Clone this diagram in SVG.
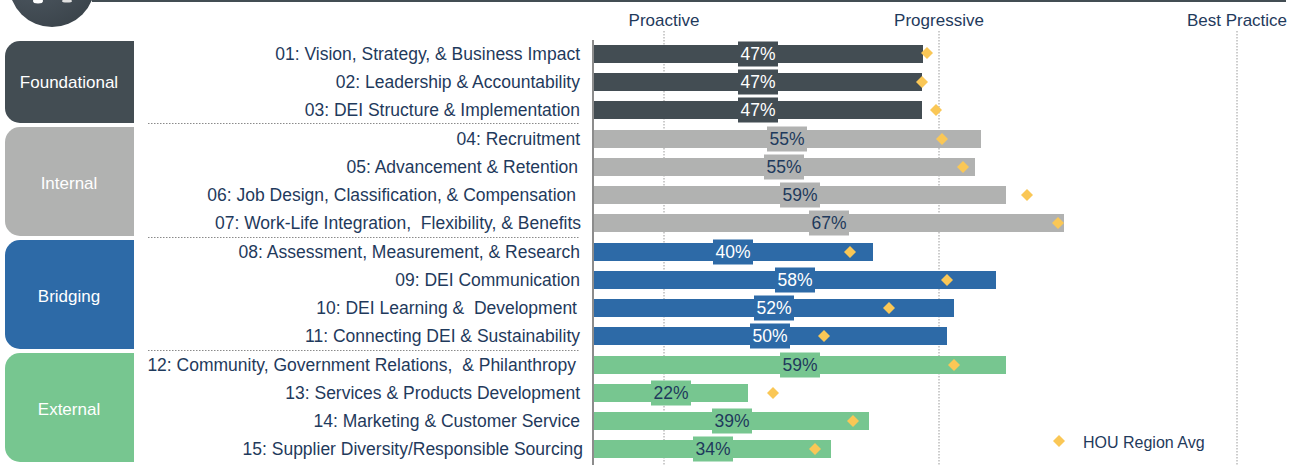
<svg xmlns="http://www.w3.org/2000/svg" width="1304" height="465" viewBox="0 0 1304 465">
<defs>
<style>
text{font-family:"Liberation Sans",Arial,sans-serif;font-size:16px;white-space:pre}
.lbl{fill:#1F3A5C;text-anchor:end;font-size:17.5px}
.hdr{fill:#1F3A5C;text-anchor:middle;font-size:17px}
.cat{fill:#FFFFFF;text-anchor:middle;font-size:17px}
.pw{fill:#FFFFFF;text-anchor:middle;font-size:17.5px}
.pn{fill:#1F3A5C;text-anchor:middle;font-size:17.5px}
.grid{stroke:#9A9A9A;stroke-width:1;stroke-dasharray:1.5 1.5;fill:none}
.div{stroke:#8A8A8A;stroke-width:1;stroke-dasharray:1.5 1.5;fill:none}
.dk{fill:#434D53}.gy{fill:#B1B2B1}.bl{fill:#2D6AA7}.gr{fill:#77C690}
.dia{fill:#FAC756}
</style>
<radialGradient id="cg" cx="0.3" cy="0.2" r="0.9">
<stop offset="0" stop-color="#55606A"/>
<stop offset="1" stop-color="#3A434A"/>
</radialGradient>
<polygon id="d" points="0,-6 6,0 0,6 -6,0"/>
</defs>

<g id="header">
<circle cx="52" cy="-16" r="43" fill="url(#cg)"/>
<ellipse cx="38" cy="1" rx="5" ry="2.5" fill="#FFFFFF"/>
<ellipse cx="67" cy="1" rx="5" ry="1.5" fill="#E0E0E0"/>
<rect x="92" y="0" width="1194" height="2" fill="#434D53"/>
<text class="hdr" x="664" y="26">Proactive</text>
<text class="hdr" x="939" y="26">Progressive</text>
<text class="hdr" x="1237" y="26">Best Practice</text>
</g>

<g id="grid">
<line class="grid" x1="664" y1="31" x2="664" y2="465"/>
<line class="grid" x1="939" y1="31" x2="939" y2="465"/>
<line class="grid" x1="1237" y1="31" x2="1237" y2="465"/>
<line x1="593" y1="40" x2="593" y2="465" stroke="#8C8C8C" stroke-width="2"/>
<line class="div" x1="148" y1="123.5" x2="580" y2="123.5"/>
<line class="div" x1="148" y1="237.5" x2="580" y2="237.5"/>
<line class="div" x1="148" y1="350.5" x2="580" y2="350.5"/>
</g>

<g id="cat-foundational">
<path class="dk" d="M20,41 H134 V123 H20 A15,15 0 0 1 5,108 V56 A15,15 0 0 1 20,41 Z"/>
<text class="cat" x="69" y="88">Foundational</text>
</g>
<g id="cat-internal">
<path class="gy" d="M20,127 H134 V236 H20 A15,15 0 0 1 5,221 V142 A15,15 0 0 1 20,127 Z"/>
<text class="cat" x="69" y="189">Internal</text>
</g>
<g id="cat-bridging">
<path class="bl" d="M20,240 H134 V349 H20 A15,15 0 0 1 5,334 V255 A15,15 0 0 1 20,240 Z"/>
<text class="cat" x="69" y="302">Bridging</text>
</g>
<g id="cat-external">
<path class="gr" d="M20,353 H134 V462 H20 A15,15 0 0 1 5,447 V368 A15,15 0 0 1 20,353 Z"/>
<text class="cat" x="69" y="415">External</text>
</g>

<g id="row01"><text class="lbl" x="580" y="60">01: Vision, Strategy, &amp; Business Impact</text>
<rect class="dk" x="594" y="45" width="329" height="18"/><rect class="dk" x="738" y="41.5" width="40" height="25"/><text class="pw" x="758" y="60">47%</text><use href="#d" class="dia" x="927" y="53"/></g>
<g id="row02"><text class="lbl" x="580" y="88">02: Leadership &amp; Accountability</text>
<rect class="dk" x="594" y="73" width="328" height="18"/><rect class="dk" x="738" y="69.5" width="40" height="25"/><text class="pw" x="758" y="88">47%</text><use href="#d" class="dia" x="922" y="82"/></g>
<g id="row03"><text class="lbl" x="580" y="116">03: DEI Structure &amp; Implementation</text>
<rect class="dk" x="594" y="101" width="328" height="18"/><rect class="dk" x="738" y="97.5" width="40" height="25"/><text class="pw" x="758" y="116">47%</text><use href="#d" class="dia" x="936" y="110"/></g>

<g id="row04"><text class="lbl" x="580" y="145">04: Recruitment</text>
<rect class="gy" x="594" y="130" width="387" height="18"/><rect class="gy" x="767" y="126.5" width="40" height="25"/><text class="pn" x="787" y="145">55%</text><use href="#d" class="dia" x="942" y="139"/></g>
<g id="row05"><text class="lbl" x="578" y="173">05: Advancement &amp; Retention</text>
<rect class="gy" x="594" y="158" width="381" height="18"/><rect class="gy" x="764" y="154.5" width="40" height="25"/><text class="pn" x="784" y="173">55%</text><use href="#d" class="dia" x="963" y="167"/></g>
<g id="row06"><text class="lbl" x="576" y="201">06: Job Design, Classification, &amp; Compensation</text>
<rect class="gy" x="594" y="186" width="412" height="18"/><rect class="gy" x="780" y="182.5" width="40" height="25"/><text class="pn" x="800" y="201">59%</text><use href="#d" class="dia" x="1027" y="195"/></g>
<g id="row07"><text class="lbl" x="581" y="229">07: Work-Life Integration,  Flexibility, &amp; Benefits</text>
<rect class="gy" x="594" y="214" width="470" height="18"/><rect class="gy" x="809" y="210.5" width="40" height="25"/><text class="pn" x="829" y="229">67%</text><use href="#d" class="dia" x="1058" y="223"/></g>

<g id="row08"><text class="lbl" x="580" y="258">08: Assessment, Measurement, &amp; Research</text>
<rect class="bl" x="594" y="243" width="279" height="18"/><rect class="bl" x="713" y="239.5" width="40" height="25"/><text class="pw" x="733" y="258">40%</text><use href="#d" class="dia" x="850" y="252"/></g>
<g id="row09"><text class="lbl" x="580" y="286">09: DEI Communication</text>
<rect class="bl" x="594" y="271" width="402" height="18"/><rect class="bl" x="775" y="267.5" width="40" height="25"/><text class="pw" x="795" y="286">58%</text><use href="#d" class="dia" x="947" y="280"/></g>
<g id="row10"><text class="lbl" x="577" y="314">10: DEI Learning &amp;  Development</text>
<rect class="bl" x="594" y="299" width="360" height="18"/><rect class="bl" x="754" y="295.5" width="40" height="25"/><text class="pw" x="774" y="314">52%</text><use href="#d" class="dia" x="889" y="308"/></g>
<g id="row11"><text class="lbl" x="580" y="342">11: Connecting DEI &amp; Sustainability</text>
<rect class="bl" x="594" y="327" width="353" height="18"/><rect class="bl" x="750" y="323.5" width="40" height="25"/><text class="pw" x="770" y="342">50%</text><use href="#d" class="dia" x="824" y="336"/></g>

<g id="row12"><text class="lbl" x="576" y="371">12: Community, Government Relations,  &amp; Philanthropy</text>
<rect class="gr" x="594" y="356" width="412" height="18"/><rect class="gr" x="780" y="352.5" width="40" height="25"/><text class="pn" x="800" y="371">59%</text><use href="#d" class="dia" x="954" y="365"/></g>
<g id="row13"><text class="lbl" x="580" y="399">13: Services &amp; Products Development</text>
<rect class="gr" x="594" y="384" width="154" height="18"/><rect class="gr" x="651" y="380.5" width="40" height="25"/><text class="pn" x="671" y="399">22%</text><use href="#d" class="dia" x="773" y="393"/></g>
<g id="row14"><text class="lbl" x="580" y="427">14: Marketing &amp; Customer Service</text>
<rect class="gr" x="594" y="412" width="275" height="18"/><rect class="gr" x="712" y="408.5" width="40" height="25"/><text class="pn" x="732" y="427">39%</text><use href="#d" class="dia" x="853" y="421"/></g>
<g id="row15"><text class="lbl" x="583" y="455">15: Supplier Diversity/Responsible Sourcing</text>
<rect class="gr" x="594" y="440" width="237" height="18"/><rect class="gr" x="693" y="436.5" width="40" height="25"/><text class="pn" x="713" y="455">34%</text><use href="#d" class="dia" x="815" y="449"/></g>

<g id="legend">
<use href="#d" class="dia" x="1059" y="441"/>
<text x="1083" y="448" fill="#1F3A5C" font-size="16.5">HOU Region Avg</text>
</g>
</svg>
